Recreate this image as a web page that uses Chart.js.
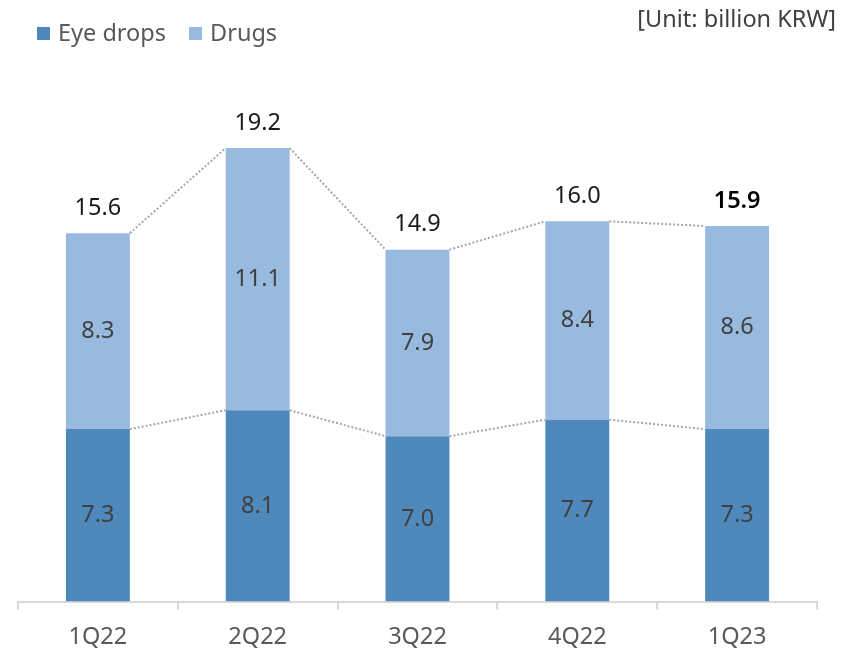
<!DOCTYPE html>
<html>
<head>
<meta charset="utf-8">
<script src="https://cdn.jsdelivr.net/npm/chart.js@4"></script>
<style>
  html, body { margin: 0; padding: 0; background: #fff; }
  #wrap { width: 851px; height: 650px; }
</style>
</head>
<body>
<div id="wrap"><canvas id="sales-chart" width="851" height="650"></canvas></div>
<script>
const quarters = ['1Q22', '2Q22', '3Q22', '4Q22', '1Q23']
const eyeDrops = [7.3, 8.1, 7.0, 7.7, 7.3]
const drugs = [8.3, 11.1, 7.9, 8.4, 8.6]
const totals = [15.6, 19.2, 14.9, 16.0, 15.9]
const unitText = '[Unit: billion KRW]'

const FONT = "'Noto Sans', 'Open Sans', sans-serif"
const SIZE = 23.5
const eyeColor = '#4f89bc'
const drugColor = '#99badf'

// dotted lines between bar tops, value labels, legend and unit note
const extras = {
    id: 'extras',
    afterDatasetsDraw(chart) {
        const ctx = chart.ctx
        const metas = [chart.getDatasetMeta(0), chart.getDatasetMeta(1)]

        ctx.save()
        ctx.strokeStyle = '#a6a6a6'
        ctx.lineWidth = 2
        ctx.setLineDash([2, 2])
        for (const meta of metas) {
            for (let i = 0; i < meta.data.length - 1; i++) {
                const a = meta.data[i].getProps(['x', 'y', 'width'], true)
                const b = meta.data[i + 1].getProps(['x', 'y', 'width'], true)
                ctx.beginPath()
                ctx.moveTo(a.x + a.width / 2, a.y)
                ctx.lineTo(b.x - b.width / 2, b.y)
                ctx.stroke()
            }
        }
        ctx.setLineDash([])

        ctx.textAlign = 'center'
        ctx.textBaseline = 'middle'
        ctx.font = SIZE + 'px ' + FONT
        ctx.fillStyle = '#404040'
        metas.forEach((meta, d) => {
            const values = d === 0 ? eyeDrops : drugs
            meta.data.forEach((bar, i) => {
                const p = bar.getProps(['x', 'y', 'base'], true)
                ctx.fillText(values[i].toFixed(1), p.x, (p.y + p.base) / 2)
            })
        })

        metas[1].data.forEach((bar, i) => {
            const p = bar.getProps(['x', 'y'], true)
            const last = i === totals.length - 1
            ctx.font = (last ? '600 ' : '') + SIZE + 'px ' + FONT
            ctx.fillStyle = last ? '#000' : '#1a1a1a'
            ctx.fillText(totals[i].toFixed(1), p.x, p.y - 25)
        })

        // legend
        ctx.font = SIZE + 'px ' + FONT
        ctx.textAlign = 'left'
        let x = 37
        for (const [label, color] of [['Eye drops', eyeColor], ['Drugs', drugColor]]) {
            ctx.fillStyle = color
            ctx.fillRect(x, 27, 13, 13)
            ctx.fillStyle = '#595959'
            ctx.fillText(label, x + 21, 34)
            x += 21 + ctx.measureText(label).width + 23
        }

        ctx.textAlign = 'right'
        ctx.font = '23.5px ' + FONT
        ctx.fillStyle = '#404040'
        ctx.fillText(unitText, 836, 20)
        ctx.restore()
    }
}

const ctx = document.getElementById('sales-chart').getContext('2d')
const salesChart = new Chart(ctx, {
    type: 'bar',
    data: {
        labels: quarters,
        datasets: [
            { label: 'Eye drops', data: eyeDrops, backgroundColor: eyeColor },
            { label: 'Drugs', data: drugs, backgroundColor: drugColor }
        ]
    },
    options: {
        responsive: false,
        animation: false,
        layout: { padding: { top: 82, left: 18, right: 34, bottom: -15 } },
        datasets: { bar: { barPercentage: 0.4, categoryPercentage: 1 } },
        plugins: { legend: { display: false }, tooltip: { enabled: false } },
        scales: {
            x: {
                stacked: true,
                border: { color: '#d9d9d9', width: 2 },
                grid: { drawOnChartArea: false, color: '#d9d9d9', lineWidth: 2, tickLength: 8 },
                ticks: { color: '#595959', padding: 16, font: { family: FONT, size: SIZE, lineHeight: 1 } }
            },
            y: {
                stacked: true,
                display: false,
                min: 0,
                max: 22
            }
        }
    },
    plugins: [extras]
})
</script>
</body>
</html>
